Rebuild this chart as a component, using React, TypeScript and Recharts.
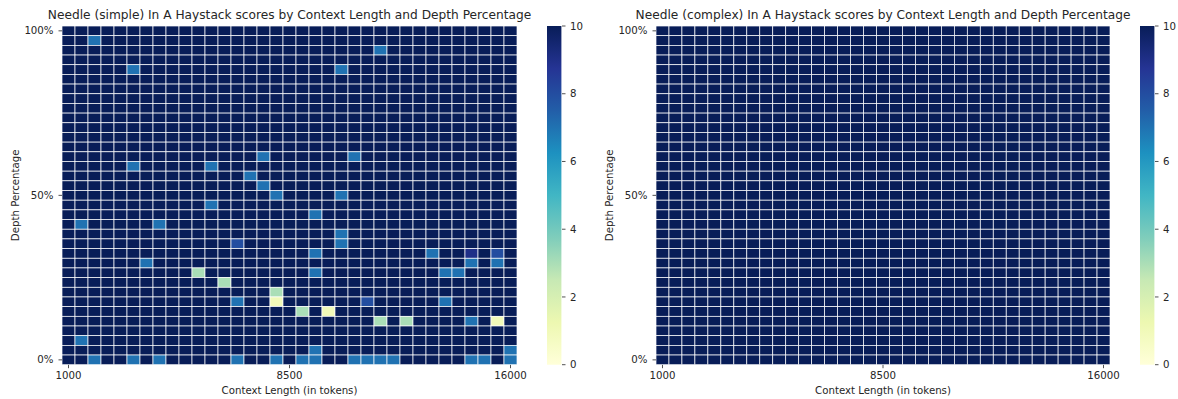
import React from 'react';
import { ScatterChart, Scatter, XAxis, YAxis, BarChart, Bar, Label } from 'recharts';

// ---------- data ----------
const contextLengths = [
  1000, 1441, 1882, 2324, 2765, 3206, 3647, 4088, 4529, 4971, 5412, 5853,
  6294, 6735, 7176, 7618, 8059, 8500, 8941, 9382, 9824, 10265, 10706, 11147,
  11588, 12029, 12471, 12912, 13353, 13794, 14235, 14676, 15118, 15559, 16000,
];
const depthPercents = [
  0, 2.9, 5.9, 8.8, 11.8, 14.7, 17.6, 20.6, 23.5, 26.5, 29.4, 32.4, 35.3, 38.2,
  41.2, 44.1, 47.1, 50, 52.9, 55.9, 58.8, 61.8, 64.7, 67.6, 70.6, 73.5, 76.5,
  79.4, 82.4, 85.3, 88.2, 91.2, 94.1, 97.1, 100,
];
const xTickIndices = [0, 17, 34];
const yTickIndices = [0, 17, 34];
const colorbarTicks = [0, 2, 4, 6, 8, 10];

// rows listed from depth 100% (top) to 0% (bottom); '.' = score 10, digit = score
const simpleRows = [
  '..... ..... ..... ..... ..... ..... .....',
  '..7.. ..... ..... ..... ..... ..... .....',
  '..... ..... ..... ..... ....7 ..... .....',
  '..... ..... ..... ..... ..... ..... .....',
  '..... 7.... ..... ..... .7... ..... .....',
  '..... ..... ..... ..... ..... ..... .....',
  '..... ..... ..... ..... ..... ..... .....',
  '..... ..... ..... ..... ..... ..... .....',
  '..... ..... ..... ..... ..... ..... .....',
  '..... ..... ..... ..... ..... ..... .....',
  '..... ..... ..... ..... ..... ..... .....',
  '..... ..... ..... ..... ..... ..... .....',
  '..... ..... ..... ..... ..... ..... .....',
  '..... ..... ..... 7.... ..7.. ..... .....',
  '..... 7.... .7... ..... ..... ..... .....',
  '..... ..... ....7 ..... ..... ..... .....',
  '..... ..... ..... 7.... ..... ..... .....',
  '..... ..... ..... .7... .7... ..... .....',
  '..... ..... .7... ..... ..... ..... .....',
  '..... ..... ..... ....7 ..... ..... .....',
  '.7... ..7.. ..... ..... ..... ..... .....',
  '..... ..... ..... ..... .7... ..... .....',
  '..... ..... ...8. ..... .7... ..... .....',
  '..... ..... ..... ....7 ..... ...7. .9.8.',
  '..... .7... ..... ..... ..... ..... .7.7.',
  '..... ..... 3.... ....7 ..... ....7 7....',
  '..... ..... ..3.. ..... ..... ..... .....',
  '..... ..... ..... .3... ..... ..... .....',
  '..... ..... ...7. .1... ...8. ....7 .....',
  '..... ..... ..... ...3. 1.... ..... .....',
  '..... ..... ..... ..... ....3 .3... .7.1.',
  '..... ..... ..... ..... ..... ..... .....',
  '.7... ..... ..... ..... ..... ..... .....',
  '..... ..... ..... ....7 ..... ..... ....7',
  '..7.. 7.7.. ...7. .7.77 ..777 7.... .77.7',
];

const complexRows = [
  '..... ..... ..... ..... ..... ..... .....',
  '..... ..... ..... ..... ..... ..... .....',
  '..... ..... ..... ..... ..... ..... .....',
  '..... ..... ..... ..... ..... ..... .....',
  '..... ..... ..... ..... ..... ..... .....',
  '..... ..... ..... ..... ..... ..... .....',
  '..... ..... ..... ..... ..... ..... .....',
  '..... ..... ..... ..... ..... ..... .....',
  '..... ..... ..... ..... ..... ..... .....',
  '..... ..... ..... ..... ..... ..... .....',
  '..... ..... ..... ..... ..... ..... .....',
  '..... ..... ..... ..... ..... ..... .....',
  '..... ..... ..... ..... ..... ..... .....',
  '..... ..... ..... ..... ..... ..... .....',
  '..... ..... ..... ..... ..... ..... .....',
  '..... ..... ..... ..... ..... ..... .....',
  '..... ..... ..... ..... ..... ..... .....',
  '..... ..... ..... ..... ..... ..... .....',
  '..... ..... ..... ..... ..... ..... .....',
  '..... ..... ..... ..... ..... ..... .....',
  '..... ..... ..... ..... ..... ..... .....',
  '..... ..... ..... ..... ..... ..... .....',
  '..... ..... ..... ..... ..... ..... .....',
  '..... ..... ..... ..... ..... ..... .....',
  '..... ..... ..... ..... ..... ..... .....',
  '..... ..... ..... ..... ..... ..... .....',
  '..... ..... ..... ..... ..... ..... .....',
  '..... ..... ..... ..... ..... ..... .....',
  '..... ..... ..... ..... ..... ..... .....',
  '..... ..... ..... ..... ..... ..... .....',
  '..... ..... ..... ..... ..... ..... .....',
  '..... ..... ..... ..... ..... ..... .....',
  '..... ..... ..... ..... ..... ..... .....',
  '..... ..... ..... ..... ..... ..... .....',
  '..... ..... ..... ..... ..... ..... .....',
];

const ylgnbu = ['#ffffd9', '#edf8b1', '#c7e9b4', '#7fcdbb', '#41b6c4', '#1d91c0', '#225ea8', '#253494', '#081d58'];

// ---------- helpers ----------
const FONT = '"DejaVu Sans", sans-serif';
const TEXT = '#262626';
const H = 399;
const M_TOP = 26;
const M_BOTTOM = 4.3;
const X_AXIS_H = 30;
const PLOT_H = H - M_TOP - M_BOTTOM - X_AXIS_H;
const Y_AXIS_W = 46;
const M_LEFT = 16;
const M_RIGHT = 13;

function hexToRgb(h: string) {
  return [parseInt(h.slice(1, 3), 16), parseInt(h.slice(3, 5), 16), parseInt(h.slice(5, 7), 16)];
}
function scoreColor(v: number) {
  const t = Math.max(0, Math.min(1, v / 10)) * (ylgnbu.length - 1);
  const i = Math.min(ylgnbu.length - 2, Math.floor(t));
  const f = t - i;
  const a = hexToRgb(ylgnbu[i]);
  const b = hexToRgb(ylgnbu[i + 1]);
  const c = a.map((av, k) => Math.round(av + (b[k] - av) * f));
  return `rgb(${c[0]},${c[1]},${c[2]})`;
}

function toCells(rows: string[]) {
  const n = rows.length;
  const cells: { x: number; y: number; score: number }[] = [];
  rows.forEach((r, i) => {
    const s = r.replace(/ /g, '');
    const depthIdx = n - 1 - i;
    for (let c = 0; c < s.length; c++) {
      const ch = s[c];
      cells.push({ x: c, y: depthIdx, score: ch === '.' ? 10 : Number(ch) });
    }
  });
  return cells;
}

const tickStyle = { fontSize: 10.2, fill: TEXT, fontFamily: FONT };
const tickLineStyle = { stroke: TEXT, strokeWidth: 0.8 };

function Heatmap({ left, plotWidth, title, rows }: { left: number; plotWidth: number; title: string; rows: string[] }) {
  const cells = toCells(rows);
  const nCols = contextLengths.length;
  const nRows = depthPercents.length;
  const cw = plotWidth / nCols;
  const ch = PLOT_H / nRows;
  const width = M_LEFT + Y_AXIS_W + plotWidth + M_RIGHT;
  const shape = (p: any) => (
    <rect
      x={p.cx - cw / 2}
      y={p.cy - ch / 2}
      width={cw}
      height={ch}
      fill={scoreColor(p.payload.score)}
      stroke="#ffffff"
      strokeWidth={0.7}
    />
  );
  return (
    <>
      <div
        style={{
          position: 'absolute',
          left: left + M_LEFT + Y_AXIS_W + plotWidth / 2,
          top: 8.7,
          transform: 'translateX(-50%)',
          fontSize: 12.2,
          lineHeight: '12.2px',
          whiteSpace: 'nowrap',
          color: TEXT,
          fontFamily: FONT,
        }}
      >
        {title}
      </div>
      <div style={{ position: 'absolute', left, top: 0 }}>
        <ScatterChart width={width} height={H} margin={{ top: M_TOP, right: M_RIGHT, bottom: M_BOTTOM, left: M_LEFT }}>
          <XAxis
            type="number"
            dataKey="x"
            domain={[-0.5, nCols - 0.5]}
            allowDataOverflow
            ticks={xTickIndices}
            tickFormatter={(i: number) => String(contextLengths[i])}
            height={X_AXIS_H}
            axisLine={false}
            tickSize={3.5}
            tickMargin={4}
            tickLine={tickLineStyle}
            tick={tickStyle}
            interval={0}
          >
            <Label
              content={(props: any) => {
                const vb = props.viewBox || {};
                return (
                  <text
                    x={vb.x + vb.width / 2}
                    y={vb.y + 29.5}
                    textAnchor="middle"
                    fontSize={10.2}
                    fontFamily={FONT}
                    fill={TEXT}
                  >
                    Context Length (in tokens)
                  </text>
                );
              }}
            />
          </XAxis>
          <YAxis
            type="number"
            dataKey="y"
            domain={[-0.5, nRows - 0.5]}
            allowDataOverflow
            ticks={yTickIndices}
            tickFormatter={(i: number) => `${depthPercents[i]}%`}
            width={Y_AXIS_W}
            axisLine={false}
            tickSize={3.5}
            tickMargin={5}
            tickLine={tickLineStyle}
            tick={tickStyle}
            interval={0}
          >
            <Label
              content={(props: any) => {
                const vb = props.viewBox || {};
                const cx = vb.x;
                const cy = vb.y + vb.height / 2;
                return (
                  <text
                    x={cx}
                    y={cy}
                    transform={`rotate(-90 ${cx} ${cy})`}
                    textAnchor="middle"
                    dominantBaseline="central"
                    fontSize={10.2}
                    fontFamily={FONT}
                    fill={TEXT}
                  >
                    Depth Percentage
                  </text>
                );
              }}
            />
          </YAxis>
          <Scatter data={cells} shape={shape} isAnimationActive={false} />
        </ScatterChart>
      </div>
    </>
  );
}

function Colorbar({ left, id }: { left: number; id: string }) {
  const barW = 16;
  const axisW = 40;
  return (
    <div style={{ position: 'absolute', left, top: 0 }}>
      <BarChart
        width={barW + axisW}
        height={H}
        data={[{ name: 'cb', v: 10 }]}
        margin={{ top: M_TOP, right: 0, bottom: M_BOTTOM + X_AXIS_H, left: 0 }}
        barCategoryGap={0}
      >
        <defs>
          <linearGradient id={id} x1="0" y1="1" x2="0" y2="0">
            {ylgnbu.map((c, i) => (
              <stop key={i} offset={i / (ylgnbu.length - 1)} stopColor={c} />
            ))}
          </linearGradient>
        </defs>
        <XAxis dataKey="name" hide />
        <YAxis
          orientation="right"
          type="number"
          domain={[0, 10]}
          ticks={colorbarTicks}
          width={axisW}
          axisLine={false}
          tickSize={3.5}
          tickMargin={4.5}
          tickLine={tickLineStyle}
          tick={tickStyle}
          interval={0}
        />
        <Bar dataKey="v" fill={`url(#${id})`} barSize={barW} isAnimationActive={false} />
      </BarChart>
    </div>
  );
}

export default function App() {
  return (
    <div style={{ position: 'absolute', left: 0, top: 0, width: 1178, height: 399, background: '#fff', fontFamily: FONT }}>
      <Heatmap
        left={0}
        plotWidth={455}
        title="Needle (simple) In A Haystack scores by Context Length and Depth Percentage"
        rows={simpleRows}
      />
      <Colorbar left={546} id="cbLeft" />
      <Heatmap
        left={594}
        plotWidth={454}
        title="Needle (complex) In A Haystack scores by Context Length and Depth Percentage"
        rows={complexRows}
      />
      <Colorbar left={1139} id="cbRight" />
    </div>
  );
}
